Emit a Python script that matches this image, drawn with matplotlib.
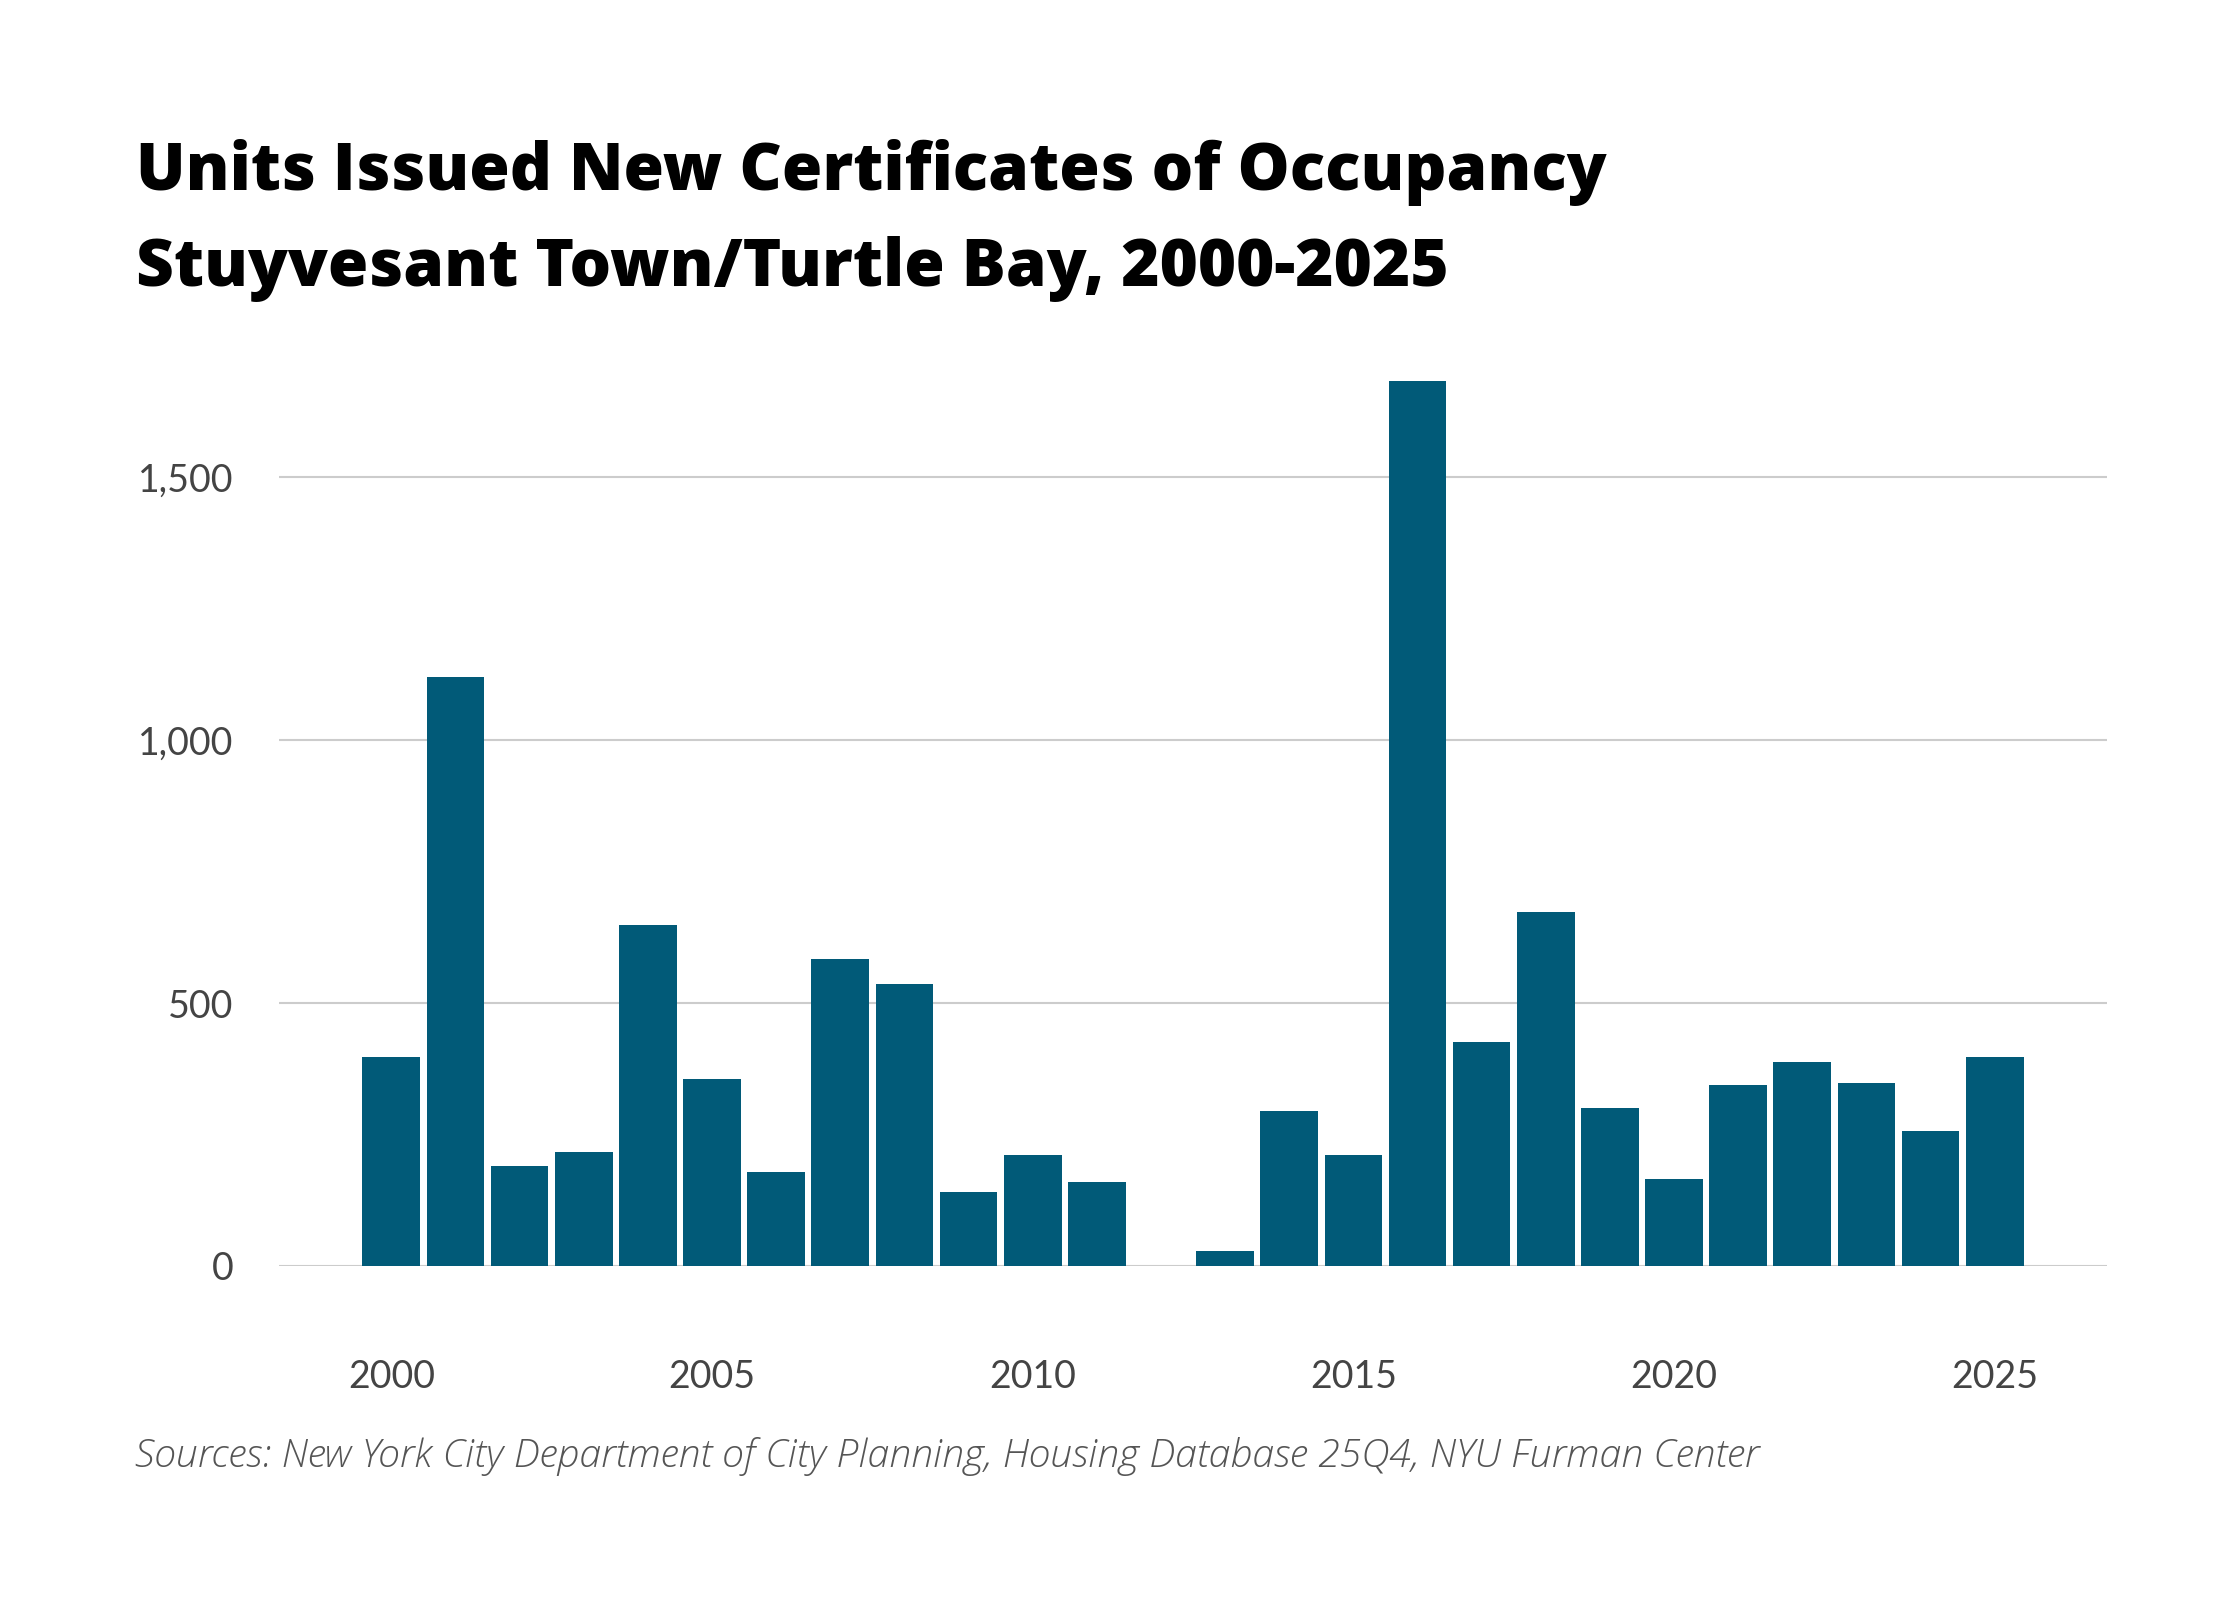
import matplotlib.pyplot as plt
import numpy as np

# Années et unités (lecture sur le graphique de référence)
years = np.arange(2000, 2026)
units = [397, 1120, 190, 216, 648, 356, 178, 584, 536, 141, 211, 159, 0,
         28, 295, 212, 1684, 426, 673, 300, 165, 345, 388, 348, 256, 397]

title_lines = ["Units Issued New Certificates of Occupancy",
               "Stuyvesant Town/Turtle Bay, 2000-2025"]
source = "Sources: New York City Department of City Planning, Housing Database 25Q4, NYU Furman Center"
y_ticks = [0, 500, 1000, 1500]
y_labels = ["0", "500", "1,000", "1,500"]
x_ticks = [2000, 2005, 2010, 2015, 2020, 2025]

bar_color = "#015a78"

fig = plt.figure(figsize=(22.4, 16), dpi=100)
ax = fig.add_axes([0.1246, 0.20875, 0.816, 0.575])

ax.bar(years, units, width=0.9, color=bar_color, zorder=2)

ax.set_xlim(1998.25, 2026.75)
ax.set_ylim(0, 1750)
ax.set_yticks(y_ticks)
ax.set_yticklabels(y_labels)
ax.set_xticks(x_ticks)
ax.set_xticklabels([str(x) for x in x_ticks])
ax.grid(axis="y", color="#cccccc", linewidth=1.5, zorder=0)
for s in ax.spines.values():
    s.set_visible(False)
ax.tick_params(axis="both", length=0, labelsize=27, labelcolor="#444444")
ax.tick_params(axis="y", pad=33)
ax.tick_params(axis="x", pad=67)
for lab in ax.get_xticklabels() + ax.get_yticklabels():
    lab.set_fontfamily("Lato")

# Titre sur deux lignes
for line, base in zip(title_lines, [189.5, 286.5]):
    fig.text(0.0607, 1 - base / 1600, line, fontsize=47.2, fontweight="heavy",
             family="Open Sans", va="baseline", ha="left")

# Source
fig.text(0.0603, 1 - 1456 / 1600, source, fontsize=28.3, style="italic", fontweight="light",
         family="Open Sans", color="#555555", va="center", ha="left")

fig.savefig("out.png", dpi=100, facecolor="white")
